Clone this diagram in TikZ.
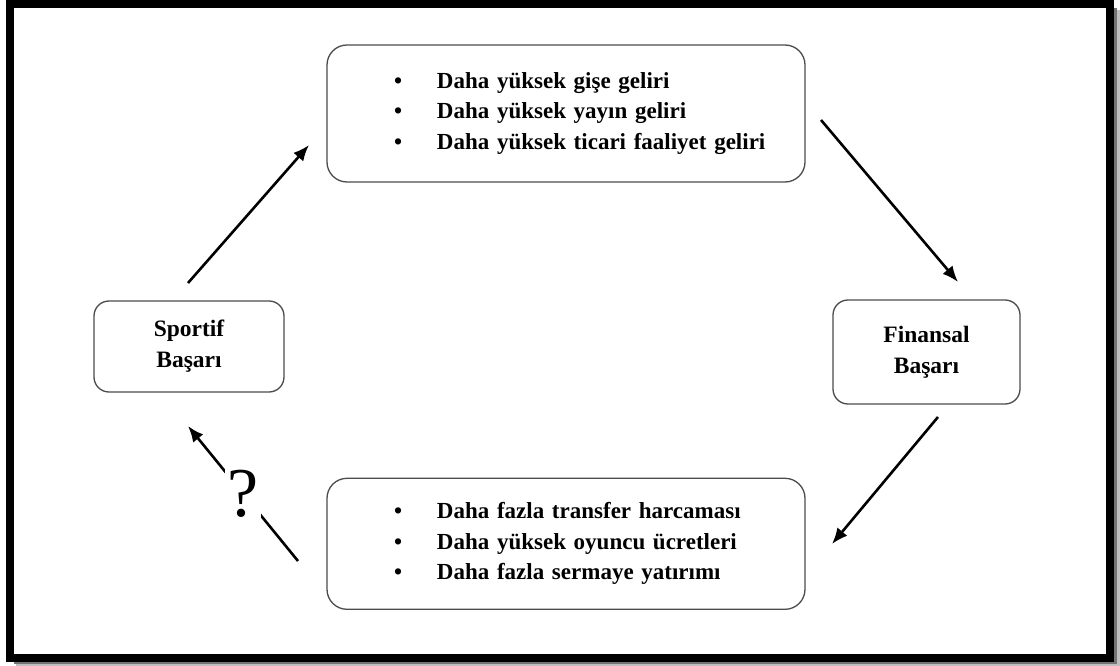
\documentclass[tikz,border=0pt]{standalone}
\usepackage{fontspec}
\setmainfont{Liberation Serif}
\usetikzlibrary{arrows.meta,positioning}
\newcommand{\madde}[1]{\hspace*{67pt}\makebox[43pt][l]{\textbullet}#1}

\begin{document}
\begin{tikzpicture}[x=1pt,y=-1pt,
  bigbox/.style={draw=black!70,line width=1.3pt,rounded corners=20pt,text width=478pt,inner xsep=0pt,align=left,font=\fontsize{23}{30.5}\selectfont\bfseries},
  smallbox/.style={draw=black!70,line width=1.3pt,rounded corners=15pt,align=center,font=\fontsize{23.5}{31}\selectfont\bfseries},
  link/.style={line width=2.6pt,-{Latex[length=16pt,width=13pt]}}]

        % frame with shadow
        \fill[white] (0,0) rectangle (1120,664);
        \fill[black!25] (16,8) rectangle (1120,664);
        \fill[black!55] (14,6) rectangle (1117,662);
        \draw[line width=8pt,fill=white] (10,2) rectangle (1109.5,656);

        \node (gelir) [bigbox,minimum height=137pt] at (566,111.5)
          {\madde{Daha yüksek gişe geliri}\\
           \madde{Daha yüksek yayın geliri}\\
           \madde{Daha yüksek ticari faaliyet geliri}};
        \node (harcama) [bigbox,minimum height=131pt,below=295pt of gelir]
          {\madde{Daha fazla transfer harcaması}\\
           \madde{Daha yüksek oyuncu ücretleri}\\
           \madde{Daha fazla sermaye yatırımı}};
        \node (sportif) [smallbox,minimum width=190pt,minimum height=91pt] at (189,344.5) {Sportif\\Başarı};
        \node (finansal) [smallbox,minimum width=187pt,minimum height=104pt] at (926.5,350) {Finansal\\Başarı};

        \coordinate (s1) at (188,281);  \coordinate (e1) at (309,143);
        \coordinate (s2) at (821,118);  \coordinate (e2) at (958,280);
        \coordinate (s3) at (938,415);  \coordinate (e3) at (832,542);
        \coordinate (s4) at (298,559);  \coordinate (e4) at (188,424);

        \draw[link] (s1) -- (e1);
        \draw[link] (s2) -- (e2);
        \draw[link] (s3) -- (e3);
        \draw[link] (s4) -- node (soru) [fill=white,inner sep=2pt,font=\fontsize{70}{70}\selectfont] {?} (e4);
      \end{tikzpicture}
\end{document}
